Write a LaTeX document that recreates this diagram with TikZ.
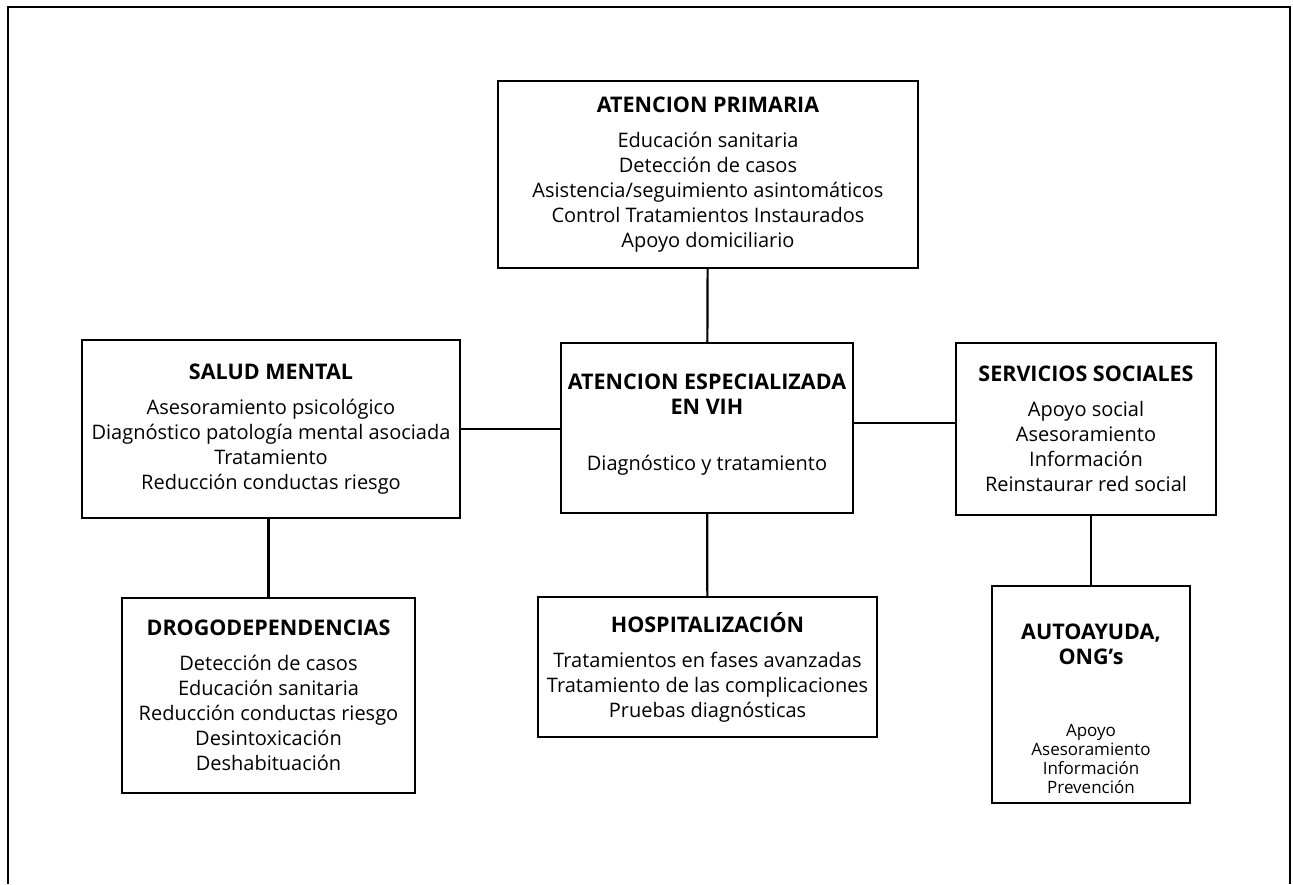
\documentclass[tikz,border=0pt]{standalone}
\usepackage{fontspec}
\setmainfont{Open Sans}
\newcommand\titulo[1]{{\fontsize{21.5}{25}\selectfont\bfseries #1}}
\newcommand\peq{\fontsize{17}{19}\selectfont}
\tikzset{
  caja/.style={draw, line width=2.2pt, align=center, inner sep=0pt,
    font=\fontsize{20}{25}\selectfont},
  enlace/.style={line width=2.2pt},
}
\begin{document}
\begin{tikzpicture}[x=1pt, y=-1pt]
\useasboundingbox (0,0) rectangle (1293,884);
% marco exterior, abierto por abajo
\draw [line width=2.8pt](8,884)--(8,7)--(1290,7)--(1290,884);

\node [caja, minimum width=420, minimum height=187] (primaria) at (708,174.5)
  {\titulo{ATENCION PRIMARIA}\\[10pt]
   Educación sanitaria\\ Detección de casos\\
   Asistencia/seguimiento asintomáticos\\
   Control Tratamientos Instaurados\\ Apoyo domiciliario};

\node [caja, minimum width=292, minimum height=170] (especializada) at (707,428)
  {\titulo{\rule{0pt}{6pt}ATENCION ESPECIALIZADA}\\ \titulo{EN VIH}\\[31pt]
   Diagnóstico y tratamiento\rule[-12pt]{0pt}{12pt}};

\node [caja, minimum width=378, minimum height=178] (salud) at (271,429)
  {\titulo{SALUD MENTAL}\\[10pt]
   Asesoramiento psicológico\\
   Diagnóstico patología mental asociada\\
   Tratamiento\\ Reducción conductas riesgo};

\node [caja, minimum width=260, minimum height=172] (servicios) at (1086,429)
  {\titulo{SERVICIOS SOCIALES}\\[10pt]
   Apoyo social\\ Asesoramiento\\ Información\\ Reinstaurar red social};

\node [caja, minimum width=293, minimum height=195] (drogo) at (268.5,695.5)
  {\titulo{DROGODEPENDENCIAS}\\[10pt]
   Detección de casos\\ Educación sanitaria\\
   Reducción conductas riesgo\\ Desintoxicación\\ Deshabituación};

\node [caja, minimum width=339, minimum height=140] (hospital) at (707.5,667)
  {\titulo{HOSPITALIZACIÓN}\\[10pt]
   Tratamientos en fases avanzadas\\
   Tratamiento de las complicaciones\\ Pruebas diagnósticas};

\node [caja, minimum width=198, minimum height=217] (autoayuda) at (1091,694.5)
  {\titulo{\rule{0pt}{50pt}AUTOAYUDA,}\\ \titulo{ONG’s}\\[47pt]
   {\peq\begin{tabular}[t]{@{}c@{}}Apoyo\\ Asesoramiento\\ Información\\ Prevención\end{tabular}}};

\draw [enlace](primaria)--(especializada);
\draw [enlace](especializada)--(hospital);
\draw [enlace](salud.east)--(salud.east -| especializada.west);
\draw [enlace]([yshift=5pt]especializada.east)--([yshift=5pt]especializada.east -| servicios.west);
\draw [enlace](salud.south -| drogo)--(drogo.north);
\draw [enlace](servicios.south -| autoayuda)--(autoayuda.north);
\end{tikzpicture}
\end{document}
